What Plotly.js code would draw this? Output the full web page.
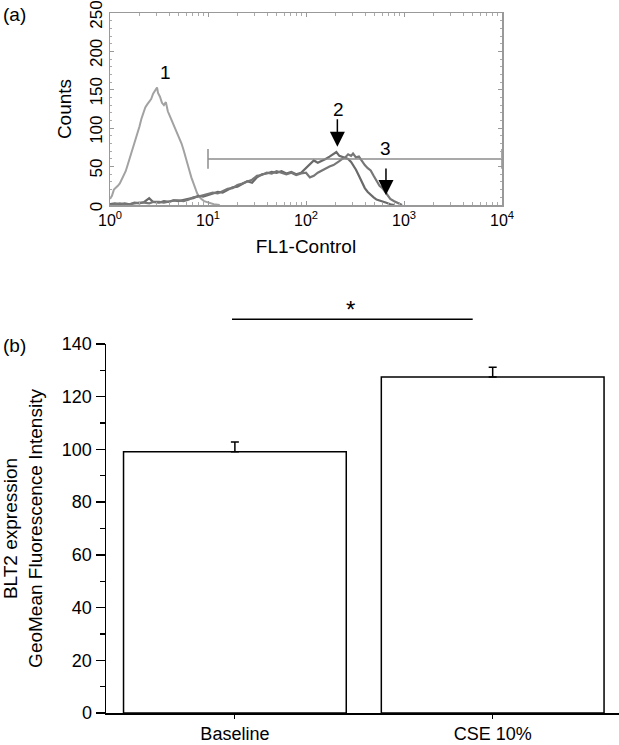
<!DOCTYPE html>
<html>
<head>
<meta charset="utf-8">
<script src="https://cdn.plot.ly/plotly-3.0.1.min.js"></script>
<style>
  html, body { margin: 0; padding: 0; background: #fff; }
  #chart { width: 619px; height: 745px; }
</style>
</head>
<body>
<div id="chart"></div>
<script>
// ---------- Panel (a): flow cytometry histograms (x given as log10 of FL1 channel) ----------
const ctrlLogFL = [0.00,0.02,0.04,0.06,0.08,0.10,0.12,0.14,0.16,0.18,0.20,0.22,0.24,0.26,0.28,0.30,0.32,0.34,0.36,0.38,0.40,0.42,0.44,0.46,0.48,0.49,0.51,0.53,0.55,0.57,0.58,0.59,0.61,0.63,0.65,0.67,0.69,0.71,0.73,0.75,0.77,0.79,0.81,0.83,0.85,0.87,0.89,0.91,0.93,0.96,1.01,1.06,1.12];
const ctrlCounts = [8,12,20,22,25,28,33,38,44,52,60,68,76,86,95,102,112,120,127,131,134,138,145,150,153,146,141,133,130,134,128,122,116,110,104,99,94,88,80,72,64,54,45,36,28,21,15,11,8,5,3,1,0];

const baseLogFL = [0.00,0.05,0.10,0.15,0.20,0.25,0.30,0.35,0.40,0.44,0.50,0.55,0.60,0.65,0.70,0.75,0.80,0.85,0.90,0.95,1.00,1.05,1.10,1.15,1.20,1.25,1.30,1.35,1.40,1.45,1.50,1.55,1.60,1.65,1.70,1.75,1.80,1.85,1.90,1.95,2.00,2.04,2.08,2.12,2.16,2.20,2.24,2.28,2.31,2.34,2.37,2.40,2.43,2.46,2.48,2.51,2.54,2.57,2.60,2.63,2.66,2.69,2.72,2.75,2.78,2.82,2.86,2.90];
const baseCounts = [1,2,1,2,1,3,2,4,9,4,3,5,4,6,5,7,8,9,12,11,13,15,17,16,19,23,24,27,31,29,36,40,41,43,42,44,41,43,40,42,48,52,58,55,57,60,63,66,69,64,63,62,60,56,52,46,38,30,22,17,13,10,7,6,4,3,1,0];

const cseLogFL = [0.00,0.05,0.10,0.15,0.20,0.25,0.30,0.35,0.40,0.44,0.50,0.55,0.60,0.65,0.70,0.75,0.80,0.85,0.90,0.95,1.00,1.05,1.10,1.15,1.20,1.25,1.30,1.35,1.40,1.45,1.50,1.55,1.60,1.65,1.70,1.75,1.80,1.85,1.90,1.95,2.00,2.04,2.08,2.12,2.16,2.20,2.24,2.28,2.31,2.34,2.37,2.40,2.43,2.46,2.48,2.51,2.54,2.57,2.60,2.63,2.66,2.69,2.72,2.75,2.78,2.82,2.86,2.90,2.94,2.98];
const cseCounts = [0,1,2,1,1,2,3,3,2,4,4,3,5,6,6,5,7,10,11,13,14,16,15,18,21,22,26,28,30,33,38,39,42,41,44,42,40,42,39,41,42,36,38,42,45,47,50,52,54,57,60,62,66,64,67,62,63,57,52,48,45,38,32,25,22,15,8,5,2,0];

const gateRange = [10, 10000];
const gateLevel = 60;

const histTickVals = [1, 10, 100, 1000, 10000];
const histTickText = ['10<sup>0</sup>','10<sup>1</sup>','10<sup>2</sup>','10<sup>3</sup>','10<sup>4</sup>'];
const countTickVals = [0, 50, 100, 150, 200, 250];

// ---------- Panel (b): bar chart ----------
const groups = ['Baseline', 'CSE 10%'];
const geoMean = [99.1, 127.5];
const geoMeanErr = [3.7, 3.7];

const toFL = a => a.map(e => Math.pow(10, e));
const FONT = 'Liberation Sans, Arial, Helvetica, sans-serif';

const traces = [
  { x: toFL(ctrlLogFL), y: ctrlCounts, type: 'scatter', mode: 'lines',
    line: { color: '#a2a2a2', width: 2 }, xaxis: 'x', yaxis: 'y', hoverinfo: 'skip' },
  { x: toFL(baseLogFL), y: baseCounts, type: 'scatter', mode: 'lines',
    line: { color: '#6a6a6a', width: 2.2 }, xaxis: 'x', yaxis: 'y', hoverinfo: 'skip' },
  { x: toFL(cseLogFL), y: cseCounts, type: 'scatter', mode: 'lines',
    line: { color: '#777777', width: 2.2 }, xaxis: 'x', yaxis: 'y', hoverinfo: 'skip' },
  { x: gateRange, y: [gateLevel, gateLevel], type: 'scatter', mode: 'lines+markers',
    line: { color: '#8c8c8c', width: 1.5 },
    marker: { symbol: 'line-ns-open', size: 14, color: '#8c8c8c', line: { color: '#8c8c8c', width: 1.5 } },
    xaxis: 'x', yaxis: 'y', hoverinfo: 'skip', cliponaxis: false },
  { x: groups, y: geoMean, type: 'bar', width: 0.864,
    marker: { color: '#ffffff', line: { color: '#000000', width: 1.5 } },
    error_y: { type: 'data', symmetric: false, array: geoMeanErr, arrayminus: [0, 0],
               color: '#000000', thickness: 1.5, width: 4 },
    xaxis: 'x2', yaxis: 'y2', hoverinfo: 'skip' }
];

const layout = {
  width: 619, height: 745,
  margin: { l: 0, r: 0, t: 0, b: 0 },
  paper_bgcolor: '#ffffff', plot_bgcolor: '#ffffff',
  showlegend: false,
  font: { family: FONT, color: '#000000' },
  xaxis: {
    type: 'log', range: [0, 4], domain: [110/619, 502/619], anchor: 'y',
    tickmode: 'array', tickvals: histTickVals, ticktext: histTickText,
    tickfont: { size: 16, family: FONT },
    ticks: 'inside', ticklen: 4, tickcolor: '#999', tickwidth: 1,
    minor: { ticks: 'inside', ticklen: 3, tickcolor: '#aaa', dtick: 'D1' },
    showline: true, linecolor: '#999', linewidth: 1.5, mirror: 'ticks',
    showgrid: false, zeroline: false,
    title: { text: 'FL1-Control', font: { size: 19, family: FONT }, standoff: 12 }
  },
  yaxis: {
    range: [0, 250.01], domain: [1 - 205/745, 1 - 13/745], anchor: 'x',
    tickmode: 'array', tickvals: countTickVals,
    tickangle: -90, tickfont: { size: 17, family: FONT },
    ticklabeloverflow: 'allow', ticklabelshift: 4,
    ticks: 'inside', ticklen: 4, tickcolor: '#999',
    minor: { ticks: 'inside', ticklen: 2, tickcolor: '#aaa', dtick: 10 },
    showline: true, linecolor: '#999', linewidth: 1.5, mirror: 'ticks',
    showgrid: false, zeroline: false,
    title: { text: 'Counts', font: { size: 19, family: FONT }, standoff: 10 }
  },
  xaxis2: {
    type: 'category', range: [-0.5, 1.49], domain: [106/619, 1], anchor: 'y2',
    tickfont: { size: 18, family: FONT },
    ticks: 'outside', ticklen: 4, tickcolor: '#000', tickwidth: 1,
    showline: true, linecolor: '#000', linewidth: 1.5,
    showgrid: false, zeroline: false
  },
  yaxis2: {
    range: [0, 140], domain: [1 - 713/745, 1 - 344/745], anchor: 'x2',
    dtick: 20, tickfont: { size: 18, family: FONT },
    ticks: 'outside', ticklen: 9, tickcolor: '#000', tickwidth: 1.3,
    minor: { ticks: 'outside', ticklen: 5, tickcolor: '#000', dtick: 10 },
    showline: true, linecolor: '#000', linewidth: 1.5,
    showgrid: false, zeroline: false,
    title: { text: 'BLT2 expression<br>GeoMean Fluorescence Intensity',
             font: { size: 19, family: FONT }, standoff: 17 }
  },
  shapes: [
    { type: 'line', xref: 'paper', yref: 'paper',
      x0: 232/619, x1: 472.7/619, y0: 1 - 319.3/745, y1: 1 - 319.3/745,
      line: { color: '#000', width: 1.5 } }
  ],
  annotations: [
    { xref: 'paper', yref: 'paper', x: 1/619, y: 1 - 15/745, xanchor: 'left', yanchor: 'middle',
      text: '(a)', showarrow: false, font: { size: 19, family: FONT } },
    { xref: 'paper', yref: 'paper', x: 1/619, y: 1 - 345/745, xanchor: 'left', yanchor: 'middle',
      text: '(b)', showarrow: false, font: { size: 19, family: FONT } },
    { xref: 'x', yref: 'y', x: 0.571, y: 172, text: '1', showarrow: false,
      font: { size: 19, family: FONT } },
    { xref: 'x', yref: 'y', x: 2.33, y: 125, text: '2', showarrow: false,
      font: { size: 19, family: FONT } },
    { xref: 'x', yref: 'y', x: 2.816, y: 73, text: '3', showarrow: false,
      font: { size: 19, family: FONT } },
    { xref: 'x', yref: 'y', x: 2.32, y: 76, text: '', showarrow: true,
      ax: 0, ay: -29, arrowhead: 2, arrowsize: 2, arrowwidth: 1.5, arrowcolor: '#000', standoff: 0 },
    { xref: 'x', yref: 'y', x: 2.816, y: 13, text: '', showarrow: true,
      ax: 0, ay: -28, arrowhead: 2, arrowsize: 2, arrowwidth: 1.5, arrowcolor: '#000', standoff: 0 },
    { xref: 'paper', yref: 'paper', x: 350/619, y: 1 - 309/745, yanchor: 'middle',
      text: '*', showarrow: false, font: { size: 24, family: FONT } }
  ]
};

Plotly.newPlot('chart', traces, layout, { staticPlot: true, displayModeBar: false });
</script>
</body>
</html>
